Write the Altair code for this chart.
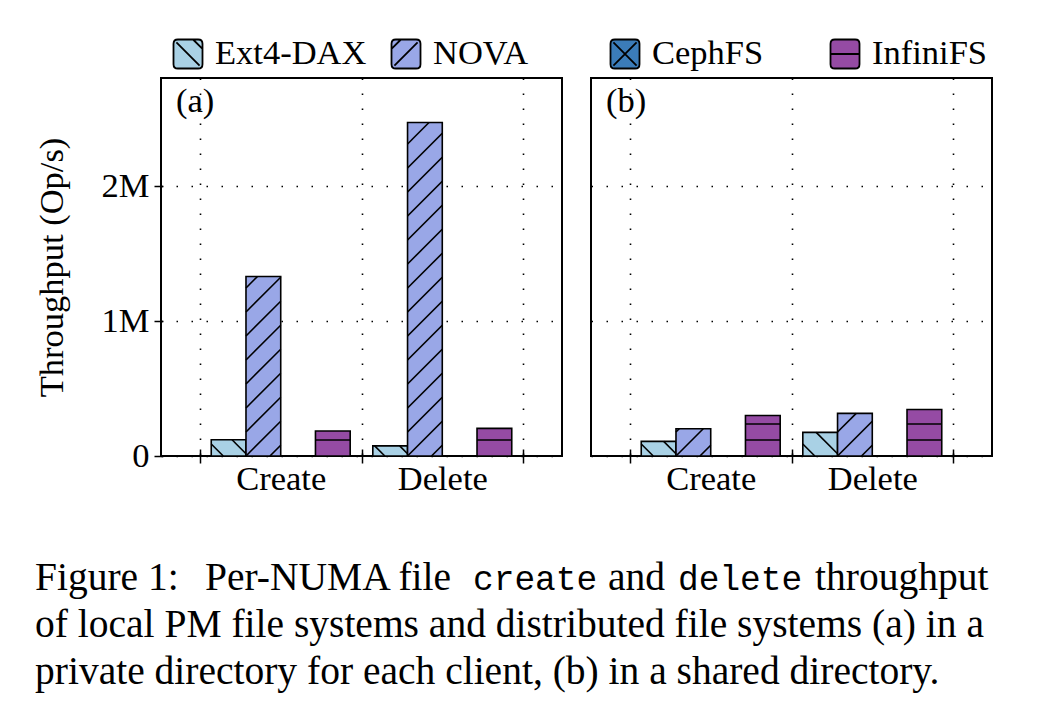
import altair as alt
import pandas as pd

# ---------------- data ----------------
groups = ["Create", "Delete"]
series = ["Ext4-DAX", "NOVA", "CephFS", "InfiniFS"]
colors = ["#a9d1e5", "#99a7e7", "#3b7cb9", "#954ba4"]

# panel (a): private directory for each client (Op/s)
a_ext4 = [120000, 75000]
a_nova = [1330000, 2470000]
a_ceph = [0, 0]
a_infini = [185000, 205000]
# panel (b): shared directory (Op/s)
b_ext4 = [108000, 175000]
b_nova = [202000, 316000]
b_ceph = [0, 0]
b_infini = [300000, 345000]

y_ticks = [0, 1000000, 2000000]
panel_labels = ["(a)", "(b)"]
y_title = "Throughput (Op/s)"
caption_l1 = ["Figure 1:", "Per-NUMA file", "create", "and", "delete", "throughput"]
caption_l2 = "of local PM file systems and distributed file systems (a) in a"
caption_l3 = "private directory for each client, (b) in a shared directory."

# ---------------- layout constants ----------------
PW, PH = 401, 378
XDOM = [-0.741, 1.741]
YMAX = 2800000
BW = 0.215
SX = PW / (XDOM[1] - XDOM[0])
SY = PH / YMAX
FONT = "Liberation Serif"
MONO = "Liberation Mono"
FS = 34.5
CAPFS = 39.5
MONOFS = 34.5

RS = "M-0.7,-1 L0.7,-1 Q1,-1 1,-0.7 L1,0.7 Q1,1 0.7,1 L-0.7,1 Q-1,1 -1,0.7 L-1,-0.7 Q-1,-1 -0.7,-1 Z"
paths = [
    RS + " M-0.8,-0.8 L0.8,0.8 M0.35,-1 L1,-0.35",
    RS + " M-0.8,0.8 L0.8,-0.8 M-1,-0.35 L-0.35,-1",
    RS + " M-0.8,-0.8 L0.8,0.8 M-0.8,0.8 L0.8,-0.8",
    RS + " M-1,0 L1,0",
]
# legend entry positions (pixels, relative to panel (a) plot origin)
LEG_X = [27, 245, 464, 684]
LEG_Y = -24


def bars_df(vals):
    rows = []
    for si, (s, v) in enumerate(zip(series, vals)):
        for gi, g in enumerate(groups):
            x0 = gi - 2 * BW + si * BW
            rows.append(dict(series=s, group=g, value=v[gi], x0=x0, x1=x0 + BW))
    return pd.DataFrame(rows)


def hatch_df(df):
    segs = []
    for r in df.itertuples():
        W = (r.x1 - r.x0) * SX
        H = r.value * SY
        if H <= 0:
            continue
        lines = []
        if r.series in ("Ext4-DAX", "CephFS"):
            d = 12.0
            while d < W + H:
                xa, xb = max(0.0, d - H), min(W, d)
                if xb > xa:
                    lines.append((xa, d - xa, xb, d - xb))
                d += 25
        if r.series in ("NOVA", "CephFS"):
            d = -24.0 * (int(W / 24) + 1)
            while d < H:
                xa, xb = max(0.0, -d), min(W, H - d)
                if xb > xa:
                    lines.append((xa, xa + d, xb, xb + d))
                d += 24
        if r.series == "InfiniFS":
            y = 16.0
            while y < H - 2:
                lines.append((0.0, y, W, y))
                y += 16
        for xa, ya, xb, yb in lines:
            segs.append(dict(x0=r.x0 + xa / SX, x1=r.x0 + xb / SX, value=ya / SY, value2=yb / SY))
    return pd.DataFrame(segs, columns=["x0", "x1", "value", "value2"])


cond0 = {"condition": {"test": "datum.value % 1 == 0", "value": 0}, "value": 1}


def text_layer(txt, x, y, font, size, align="left"):
    return alt.Chart(pd.DataFrame({"t": [txt]})).mark_text(
        font=font, fontSize=size, align=align, baseline="alphabetic", color="black"
    ).encode(text="t:N", x=alt.value(x), y=alt.value(y))


def legend_layers():
    out = []
    for name, col, path, lx in zip(series, colors, paths, LEG_X):
        sym = alt.Chart(pd.DataFrame({"series": [name]})).mark_point(
            shape=path, filled=True, fill=col, stroke="black", strokeWidth=1.8,
            size=841, opacity=1,
        ).encode(x=alt.value(lx), y=alt.value(LEG_Y))
        out.append(sym)
        out.append(text_layer(name, lx + 27, LEG_Y + 10, FONT, FS))
    return out


def panel(vals, label, first):
    df = bars_df(vals)
    hd = hatch_df(df)
    xs = alt.Scale(domain=XDOM, nice=False, zero=False)
    ys = alt.Scale(domain=[0, YMAX], nice=False)
    xaxis = alt.Axis(
        values=[-0.5, 0, 0.5, 1, 1.5],
        labelExpr="datum.value == 0 ? 'Create' : (datum.value == 1 ? 'Delete' : '')",
        tickOpacity=cond0, gridOpacity=cond0, title=None, grid=True,
        labelOverlap=False, labelFlush=False, offset=-7, tickSize=14, labelPadding=-1,
    )
    if first:
        yaxis = alt.Axis(
            values=y_ticks, grid=True, title=y_title, offset=-2, tickSize=9, labelPadding=5,
            labelExpr="datum.value == 0 ? '0' : format(datum.value / 1000000, 'd') + 'M'",
            titlePadding=32,
        )
    else:
        yaxis = alt.Axis(values=y_ticks, grid=True, labels=False, ticks=False, title=None)
    cscale = alt.Scale(domain=series, range=colors)
    bars = alt.Chart(df).mark_bar(stroke="black", strokeWidth=1.6).encode(
        x=alt.X("x0:Q", scale=xs, axis=xaxis), x2="x1",
        y=alt.Y("value:Q", scale=ys, axis=yaxis), y2=alt.datum(0),
        color=alt.Color("series:N", scale=cscale, legend=None),
    )
    hatch = alt.Chart(hd).mark_rule(color="black", strokeWidth=1.6).encode(
        x=alt.X("x0:Q", scale=xs), x2="x1",
        y=alt.Y("value:Q", scale=ys), y2="value2",
    )
    layers = [bars, hatch, text_layer(label, 15, 34, FONT, FS)]
    if first:
        y1, y2, y3 = 512, 559, 606
        layers += [
            text_layer(caption_l1[0], -126, y1, FONT, CAPFS),
            text_layer(caption_l1[1], 44, y1, FONT, CAPFS),
            text_layer(caption_l1[2], 312, y1, MONO, MONOFS),
            text_layer(caption_l1[3], 447, y1, FONT, CAPFS),
            text_layer(caption_l1[4], 517, y1, MONO, MONOFS),
            text_layer(caption_l1[5], 654, y1, FONT, CAPFS),
            text_layer(caption_l2, -126, y2, FONT, CAPFS),
            text_layer(caption_l3, -126, y3, FONT, CAPFS),
        ]
        layers += legend_layers()
    return alt.layer(*layers).properties(width=PW, height=PH)


pa = panel([a_ext4, a_nova, a_ceph, a_infini], panel_labels[0], True)
pb = panel([b_ext4, b_nova, b_ceph, b_infini], panel_labels[1], False)

chart = (
    alt.hconcat(pa, pb, spacing=29, bounds="flush")
    .resolve_scale(color="shared")
    .properties(padding={"left": 33, "top": 34, "right": 5, "bottom": 5}, background="white")
    .configure_view(stroke="black", strokeWidth=2)
    .configure_axis(
        labelFont=FONT, labelFontSize=FS, labelColor="black",
        titleFont=FONT, titleFontSize=FS, titleFontWeight="normal", titleColor="black",
        tickColor="black", tickWidth=1.5, domain=False,
        gridColor="black", gridDash=[1.5, 13.5], gridWidth=1.6,
    )
)

chart.save("out.html", embed_options={"renderer": "svg", "actions": False})
